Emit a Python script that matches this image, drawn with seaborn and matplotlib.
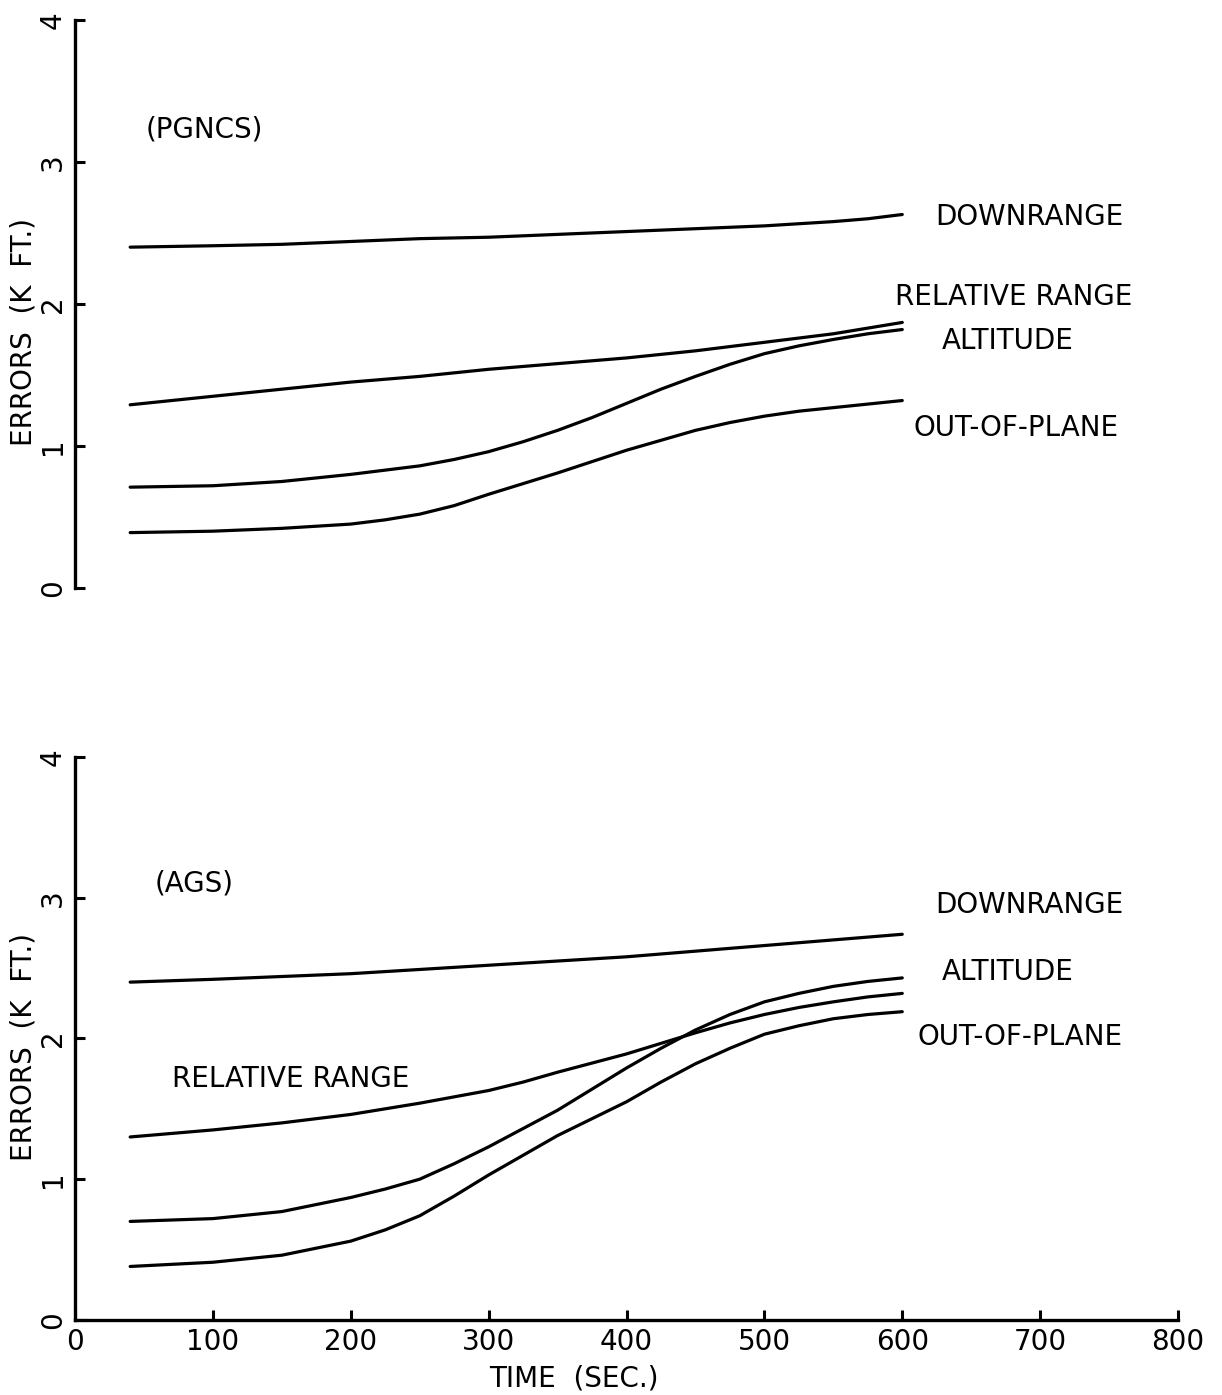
import numpy as np
import pandas as pd
import matplotlib
matplotlib.use("Agg")
import matplotlib.pyplot as plt
from matplotlib import font_manager
import seaborn as sns

# Sample times (sec)
time_s = [40, 100, 150, 200, 225, 250, 275, 300, 325, 350,
          375, 400, 425, 450, 475, 500, 525, 550, 575, 600]

# PGNCS errors (K ft)
pgncs_downrange = [2.40, 2.41, 2.42, 2.44, 2.45, 2.46, 2.465, 2.47, 2.48, 2.49,
                   2.50, 2.51, 2.52, 2.53, 2.54, 2.55, 2.565, 2.58, 2.60, 2.63]
pgncs_relrange = [1.29, 1.35, 1.40, 1.45, 1.47, 1.49, 1.515, 1.54, 1.56, 1.58,
                  1.60, 1.62, 1.645, 1.67, 1.70, 1.73, 1.76, 1.79, 1.83, 1.87]
pgncs_altitude = [0.71, 0.72, 0.75, 0.80, 0.83, 0.86, 0.905, 0.96, 1.03, 1.11,
                  1.20, 1.30, 1.40, 1.49, 1.575, 1.65, 1.705, 1.75, 1.79, 1.82]
pgncs_outplane = [0.39, 0.40, 0.42, 0.45, 0.48, 0.52, 0.58, 0.66, 0.735, 0.81,
                  0.89, 0.97, 1.04, 1.11, 1.165, 1.21, 1.245, 1.27, 1.295, 1.32]

# AGS errors (K ft)
ags_downrange = [2.40, 2.42, 2.44, 2.46, 2.475, 2.49, 2.505, 2.52, 2.535, 2.55,
                 2.565, 2.58, 2.60, 2.62, 2.64, 2.66, 2.68, 2.70, 2.72, 2.74]
ags_relrange = [1.30, 1.35, 1.40, 1.46, 1.50, 1.54, 1.585, 1.63, 1.69, 1.76,
                1.825, 1.89, 1.965, 2.04, 2.11, 2.17, 2.22, 2.26, 2.295, 2.32]
ags_altitude = [0.70, 0.72, 0.77, 0.87, 0.93, 1.00, 1.11, 1.23, 1.36, 1.49,
                1.64, 1.79, 1.93, 2.06, 2.17, 2.26, 2.32, 2.37, 2.405, 2.43]
ags_outplane = [0.38, 0.41, 0.46, 0.56, 0.64, 0.74, 0.88, 1.03, 1.17, 1.31,
                1.43, 1.55, 1.69, 1.82, 1.93, 2.03, 2.09, 2.14, 2.17, 2.19]

x_ticks = [0, 100, 200, 300, 400, 500, 600, 700, 800]
y_ticks = [0, 1, 2, 3, 4]

sns.set_theme(style="white")
available = {f.name for f in font_manager.fontManager.ttflist}
family = "Liberation Sans Narrow" if "Liberation Sans Narrow" in available else "DejaVu Sans"
plt.rcParams["font.family"] = [family, "DejaVu Sans"]
plt.rcParams["text.color"] = "black"
plt.rcParams["axes.labelcolor"] = "black"

FS = 20
LW = 2.3


def long_frame(series):
    rows = []
    for name, vals in series.items():
        for t, v in zip(time_s, vals):
            rows.append({"time": t, "error": v, "series": name})
    return pd.DataFrame(rows)


def style_axis(ax, show_x, ylabel_y):
    ax.set_xlim(0, 800)
    ax.set_ylim(0, 4)
    ax.set_facecolor("white")
    for s in ["top", "right"]:
        ax.spines[s].set_visible(False)
    ax.spines["left"].set_linewidth(2.4)
    ax.spines["left"].set_color("black")
    ax.set_yticks(y_ticks)
    ax.set_yticklabels([str(v) for v in y_ticks], rotation=90, va="center",
                       fontsize=FS)
    ax.tick_params(axis="y", direction="in", length=7, width=2.2, pad=6,
                   left=True, colors="black")
    if show_x:
        ax.spines["bottom"].set_linewidth(2.4)
        ax.spines["bottom"].set_color("black")
        ax.set_xticks(x_ticks)
        ax.set_xticklabels([str(v) for v in x_ticks], fontsize=FS)
        ax.tick_params(axis="x", direction="in", length=7, width=2.2, pad=6,
                       bottom=True, colors="black")
        ax.set_xlabel("TIME  (SEC.)", fontsize=FS, color="black")
        ax.xaxis.set_label_coords(0.452, -0.080)
    else:
        ax.spines["bottom"].set_visible(False)
        ax.set_xticks([])
        ax.set_xlabel("")
    ax.set_ylabel("ERRORS  (K  FT.)", fontsize=FS, color="black")
    ax.yaxis.set_label_coords(-0.034, ylabel_y)
    ax.grid(False)


fig = plt.figure(figsize=(12.22, 13.95), dpi=100)
ax_top = fig.add_axes([0.0614, 0.5785, 0.9026, 0.4072])
ax_bot = fig.add_axes([0.0614, 0.0538, 0.9026, 0.4036])

top_df = long_frame({
    "DOWNRANGE": pgncs_downrange,
    "RELATIVE RANGE": pgncs_relrange,
    "ALTITUDE": pgncs_altitude,
    "OUT-OF-PLANE": pgncs_outplane,
})
bot_df = long_frame({
    "DOWNRANGE": ags_downrange,
    "RELATIVE RANGE": ags_relrange,
    "ALTITUDE": ags_altitude,
    "OUT-OF-PLANE": ags_outplane,
})
black = {k: "black" for k in ["DOWNRANGE", "RELATIVE RANGE", "ALTITUDE", "OUT-OF-PLANE"]}

sns.lineplot(data=top_df, x="time", y="error", hue="series", palette=black,
             linewidth=LW, legend=False, ax=ax_top)
sns.lineplot(data=bot_df, x="time", y="error", hue="series", palette=black,
             linewidth=LW, legend=False, ax=ax_bot)

style_axis(ax_top, show_x=False, ylabel_y=0.45)
style_axis(ax_bot, show_x=True, ylabel_y=0.485)

# Curve annotations
txt = dict(fontsize=FS, color="black", va="center", ha="left")
ax_top.text(51, 3.23, "(PGNCS)", **txt)
ax_top.text(624, 2.61, "DOWNRANGE", **txt)
ax_top.text(595, 2.05, "RELATIVE RANGE", **txt)
ax_top.text(629, 1.74, "ALTITUDE", **txt)
ax_top.text(608, 1.13, "OUT-OF-PLANE", **txt)

ax_bot.text(58, 3.10, "(AGS)", **txt)
ax_bot.text(624, 2.95, "DOWNRANGE", **txt)
ax_bot.text(629, 2.47, "ALTITUDE", **txt)
ax_bot.text(611, 2.01, "OUT-OF-PLANE", **txt)
ax_bot.text(70, 1.71, "RELATIVE RANGE", **txt)

fig.savefig("out.png", dpi=100, facecolor="white")
